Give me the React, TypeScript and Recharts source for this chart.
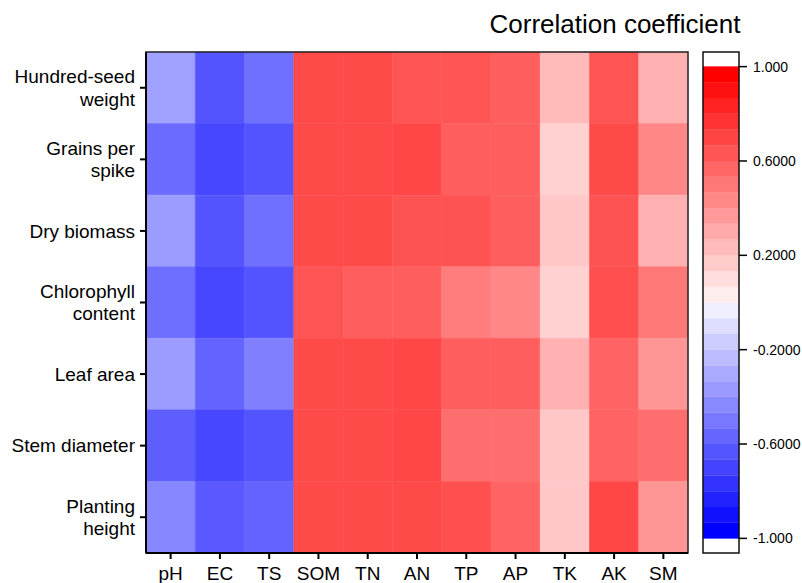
import React from "react";
import {
  ScatterChart,
  Scatter,
  XAxis,
  YAxis,
  ReferenceArea,
} from "recharts";

const SOIL = ["pH", "EC", "TS", "SOM", "TN", "AN", "TP", "AP", "TK", "AK", "SM"];

const TRAITS = [
  "Hundred-seed\nweight",
  "Grains per\nspike",
  "Dry biomass",
  "Chlorophyll\ncontent",
  "Leaf area",
  "Stem diameter",
  "Planting\nheight",
];

// correlation of each trait with the soil factors (same order as SOIL)
const hundredSeedWeight = [-0.37, -0.67, -0.56, 0.71, 0.71, 0.67, 0.67, 0.63, 0.27, 0.67, 0.31];
const grainsPerSpike = [-0.58, -0.72, -0.67, 0.71, 0.71, 0.72, 0.63, 0.63, 0.18, 0.71, 0.47];
const dryBiomass = [-0.39, -0.67, -0.56, 0.71, 0.71, 0.68, 0.68, 0.63, 0.22, 0.68, 0.31];
const chlorophyll = [-0.57, -0.72, -0.67, 0.67, 0.63, 0.63, 0.51, 0.47, 0.18, 0.69, 0.53];
const leafArea = [-0.39, -0.61, -0.5, 0.71, 0.71, 0.72, 0.63, 0.63, 0.31, 0.61, 0.41];
const stemDiameter = [-0.63, -0.72, -0.67, 0.71, 0.71, 0.72, 0.57, 0.57, 0.22, 0.61, 0.57];
const plantingHeight = [-0.47, -0.65, -0.61, 0.71, 0.71, 0.71, 0.69, 0.61, 0.22, 0.72, 0.41];

const MATRIX = [
  hundredSeedWeight,
  grainsPerSpike,
  dryBiomass,
  chlorophyll,
  leafArea,
  stemDiameter,
  plantingHeight,
];

const LEGEND_TICKS = [1, 0.6, 0.2, -0.2, -0.6, -1];
const LEGEND_STEPS = 30;

const FONT = "Arial, 'Liberation Sans', sans-serif";

function colorFor(v: number): string {
  const c = Math.round(255 * (1 - Math.min(1, Math.abs(v))));
  return v >= 0 ? `rgb(255,${c},${c})` : `rgb(${c},${c},255)`;
}

const cells = MATRIX.flatMap((row, r) =>
  row.map((value, c) => ({ x: c + 0.5, y: r + 0.5, row: r, col: c, value }))
);

const bands = Array.from({ length: LEGEND_STEPS }, (_, i) => {
  const lo = -1 + (2 * i) / LEGEND_STEPS;
  const hi = -1 + (2 * (i + 1)) / LEGEND_STEPS;
  return { lo, hi, color: colorFor(hi > 0.0001 ? hi : lo) };
});

function TraitTick(props: any) {
  const { x, y, payload } = props;
  const lines = TRAITS[Math.floor(payload.value)].split("\n");
  return (
    <text x={x} y={y} textAnchor="end" fontSize={19} fill="#000" fontFamily={FONT}>
      {lines.length === 1 ? (
        <tspan x={x} y={y + 6.7}>
          {lines[0]}
        </tspan>
      ) : (
        lines.map((l, i) => (
          <tspan key={i} x={x} y={y - 4.6 + i * 22.5}>
            {l}
          </tspan>
        ))
      )}
    </text>
  );
}

function legendLabel(v: number): string {
  if (Math.abs(v) === 1) return v.toFixed(3);
  return v.toFixed(4);
}

export default function App() {
  return (
    <div
      style={{
        position: "absolute",
        left: 0,
        top: 0,
        width: 802,
        height: 583,
        background: "#fff",
        fontFamily: FONT,
      }}
    >
      <div
        style={{
          position: "absolute",
          left: 470,
          width: 290,
          top: 8,
          textAlign: "center",
          fontSize: 26,
          color: "#000",
          lineHeight: "32px",
        }}
      >
        Correlation coefficient
      </div>

      <div style={{ position: "absolute", left: 0, top: 0 }}>
        <ScatterChart
          width={700}
          height={583}
          margin={{ top: 52, right: 12, bottom: 0, left: 0 }}
        >
          <XAxis
            type="number"
            dataKey="x"
            domain={[0, 11]}
            ticks={SOIL.map((_, i) => i + 0.5)}
            tickFormatter={(v: number) => SOIL[Math.floor(v)]}
            interval={0}
            height={30}
            axisLine={{ stroke: "#000", strokeWidth: 2 }}
            tickLine={{ stroke: "#000", strokeWidth: 2 }}
            tickSize={6}
            tickMargin={8}
            tick={{ fill: "#000", fontSize: 19, fontFamily: FONT }}
          />
          <YAxis
            type="number"
            dataKey="y"
            domain={[0, 7]}
            reversed
            ticks={TRAITS.map((_, i) => i + 0.5)}
            interval={0}
            width={146}
            axisLine={{ stroke: "#000", strokeWidth: 2 }}
            tickLine={{ stroke: "#000", strokeWidth: 2 }}
            tickSize={6}
            tickMargin={5}
            tick={<TraitTick />}
          />
          {cells.map((c) => (
            <ReferenceArea
              key={`${c.row}-${c.col}`}
              x1={c.col}
              x2={c.col + 1}
              y1={c.row}
              y2={c.row + 1}
              fill={colorFor(c.value)}
              fillOpacity={1}
              stroke={colorFor(c.value)}
              strokeWidth={0.5}
              ifOverflow="visible"
            />
          ))}
          <ReferenceArea
            x1={0}
            x2={11}
            y1={0}
            y2={7}
            fill="none"
            fillOpacity={0}
            stroke="#222"
            strokeWidth={1.5}
            ifOverflow="visible"
          />
          <Scatter data={cells} isAnimationActive={false} shape={() => <g />} />
        </ScatterChart>
      </div>

      <div style={{ position: "absolute", left: 690, top: 0 }}>
        <ScatterChart
          width={112}
          height={583}
          margin={{ top: 52, right: 0, bottom: 30, left: 13 }}
        >
          <XAxis type="number" dataKey="x" domain={[0, 1]} hide />
          <YAxis
            type="number"
            dataKey="y"
            orientation="right"
            domain={[-1.062, 1.062]}
            allowDataOverflow
            ticks={LEGEND_TICKS}
            interval={0}
            width={63}
            axisLine={false}
            tickLine={{ stroke: "#000", strokeWidth: 1.5 }}
            tickSize={8}
            tickMargin={6}
            tickFormatter={legendLabel}
            tick={{ fill: "#000", fontSize: 14, fontFamily: FONT }}
          />
          {bands.map((b, i) => (
            <ReferenceArea
              key={i}
              x1={0}
              x2={1}
              y1={b.lo}
              y2={b.hi}
              fill={b.color}
              fillOpacity={1}
              stroke={b.color}
              strokeWidth={0.3}
              ifOverflow="visible"
            />
          ))}
          <ReferenceArea
            x1={0}
            x2={1}
            y1={-1.062}
            y2={1.062}
            fill="none"
            fillOpacity={0}
            stroke="#111"
            strokeWidth={1.5}
            ifOverflow="visible"
          />
          <Scatter data={[{ x: 0.5, y: 0 }]} isAnimationActive={false} shape={() => <g />} />
        </ScatterChart>
      </div>
    </div>
  );
}
